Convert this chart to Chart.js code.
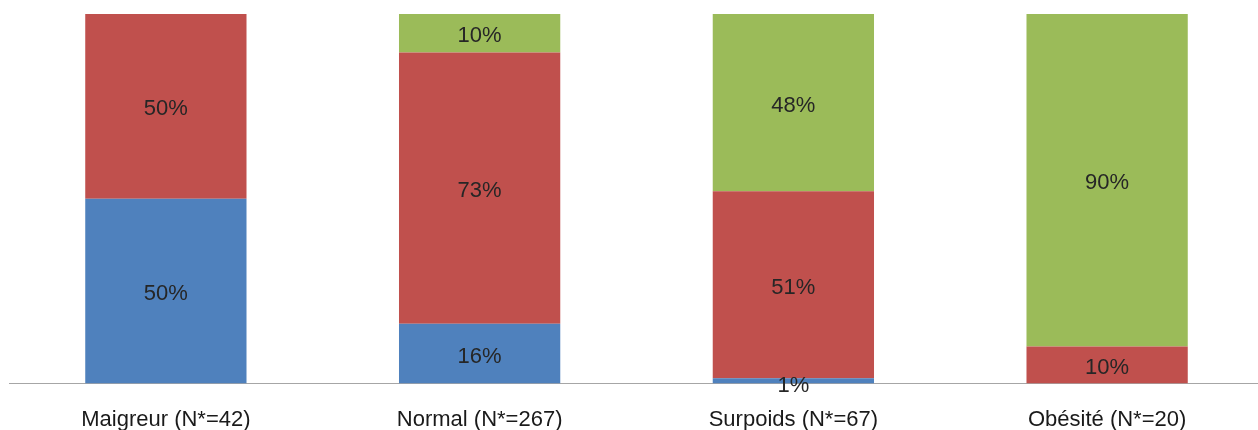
<!DOCTYPE html>
<html>
<head>
<meta charset="utf-8">
<script src="https://cdn.jsdelivr.net/npm/chart.js@4/dist/chart.umd.min.js"></script>
<style>
html,body{margin:0;padding:0;background:#fff;overflow:hidden;}
#wrap{width:1264px;height:430px;position:relative;}
</style>
</head>
<body>
<div id="wrap"><canvas id="c"></canvas></div>
<script>
const categories = ["Maigreur (N*=42)", "Normal (N*=267)", "Surpoids (N*=67)", "Obésité (N*=20)"];
const seriesBlue  = [50, 16.2, 1.4, 0];
const seriesRed   = [50, 73.4, 50.6, 10];
const seriesGreen = [0, 10.4, 48.0, 90];
const yTicks = [0, 100];

const labelPlugin = {
  id: 'segLabels',
  afterDatasetsDraw(chart) {
    const ctx = chart.ctx;
    ctx.save();
    ctx.font = '22px "Liberation Sans", Arial, sans-serif';
    ctx.fillStyle = '#262626';
    ctx.textAlign = 'center';
    ctx.textBaseline = 'middle';
    chart.data.datasets.forEach((ds, i) => {
      const meta = chart.getDatasetMeta(i);
      meta.data.forEach((bar, j) => {
        const v = ds.data[j];
        if (!v) return;
        const p = bar.getProps(['x', 'y', 'base'], true);
        let cy = (p.y + p.base) / 2;
        if (Math.abs(p.base - p.y) < 10) cy = p.base - 1;
        ctx.fillText(Math.round(v) + '%', p.x, cy + 3);
      });
    });
    ctx.restore();
  }
};

new Chart(document.getElementById('c'), {
  type: 'bar',
  data: {
    labels: categories,
    datasets: [
      { label: 'A', data: seriesBlue, backgroundColor: '#4F81BD' },
      { label: 'B', data: seriesRed, backgroundColor: '#C0504D' },
      { label: 'C', data: seriesGreen, backgroundColor: '#9BBB59' }
    ]
  },
  options: {
    responsive: true,
    maintainAspectRatio: false,
    animation: false,
    layout: { padding: { left: 9, right: 0, top: 14, bottom: 0 } },
    datasets: { bar: { barPercentage: 0.514, categoryPercentage: 1.0 } },
    plugins: { legend: { display: false }, tooltip: { enabled: false } },
    scales: {
      x: {
        stacked: true,
        grid: { display: false, drawTicks: false },
        border: { display: true, color: '#a6a6a6', width: 1 },
        afterFit(scale) { scale.height = 46.5; },
        ticks: {
          padding: 23,
          color: '#1a1a1a',
          font: { family: '"Liberation Sans", Arial, sans-serif', size: 22 },
          maxRotation: 0, autoSkip: false
        }
      },
      y: {
        stacked: true,
        display: false,
        min: yTicks[0],
        max: yTicks[1]
      }
    }
  },
  plugins: [labelPlugin]
});
</script>
</body>
</html>
